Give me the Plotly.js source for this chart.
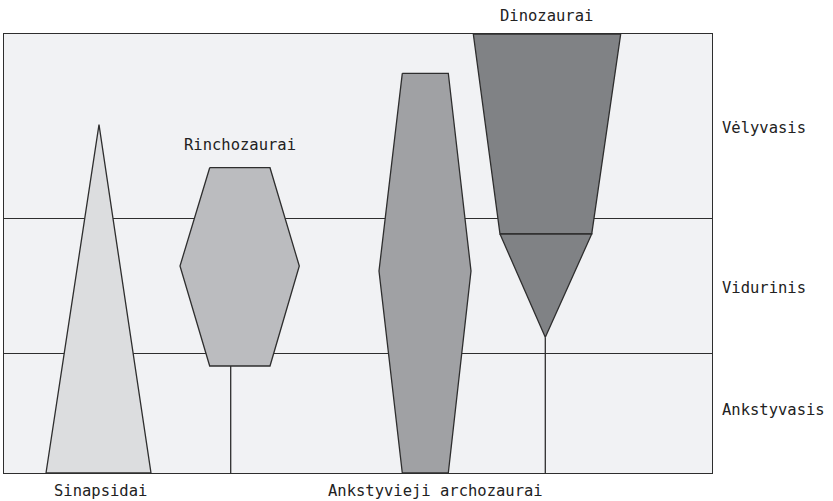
<!DOCTYPE html>
<html>
<head>
<meta charset="utf-8">
<script src="https://cdn.plot.ly/plotly-3.0.1.min.js"></script>
<style>html,body{margin:0;padding:0;background:#fff;}</style>
</head>
<body>
<div id="chart" style="width:833px;height:501px;"></div>
<script>
// Period boundaries (chart units, bottom = 0, top = 439)
const periodNames = ["Ankstyvasis", "Vidurinis", "Vėlyvasis"];
const periodBounds = [0, 119.7, 254.7, 439];
const periodLabelY = [63, 185, 345];
const yTop = 439;

// Group outlines (x, y in chart units)
const sinapsidaiX = [41.5, 94.5, 146.5, 41.5];
const sinapsidaiY = [0, 348.3, 0, 0];

const rinchoX = [205.2, 265.5, 294.8, 265.5, 205.2, 175.5, 205.2];
const rinchoY = [305.3, 305.3, 207, 107, 107, 207, 305.3];
const rinchoStemX = [226.2, 226.2];
const rinchoStemY = [107, 0];

const archoX = [397.8, 443.8, 466.5, 443.8, 397.8, 374.5, 397.8];
const archoY = [399.7, 399.7, 202, 0, 0, 202, 399.7];

const dinoUpperX = [468.8, 616.2, 587.2, 495.5, 468.8];
const dinoUpperY = [439, 439, 239, 239, 439];
const dinoLowerX = [495.5, 587.2, 540.8, 495.5];
const dinoLowerY = [239, 239, 135.7, 239];
const dinoStemX = [540.8, 540.8];
const dinoStemY = [135.7, 0];

// Labels
const groupLabels = ["Sinapsidai", "Rinchozaurai", "Ankstyvieji archozaurai", "Dinozaurai"];
const groupLabelX = [95.5, 235.5, 430.5, 541.8];
const groupLabelY = [-17.5, 328, -17.5, 457];

const edge = "#2e2e2e";
const font = {family: "DejaVu Sans Mono, monospace", size: 15.5, color: "#222"};

function poly(x, y, fill) {
  return {type: "scatter", mode: "lines", x: x, y: y, fill: "toself",
          fillcolor: fill, line: {color: edge, width: 1.3}, hoverinfo: "skip", showlegend: false};
}
function stem(x, y) {
  return {type: "scatter", mode: "lines", x: x, y: y,
          line: {color: edge, width: 1.3}, hoverinfo: "skip", showlegend: false};
}

const traces = [
  poly(sinapsidaiX, sinapsidaiY, "#dcdddf"),
  stem(rinchoStemX, rinchoStemY),
  poly(rinchoX, rinchoY, "#bbbcbf"),
  poly(archoX, archoY, "#a0a1a4"),
  stem(dinoStemX, dinoStemY),
  poly(dinoUpperX, dinoUpperY, "#808285"),
  poly(dinoLowerX, dinoLowerY, "#808285")
];

const annotations = [];
for (let i = 0; i < groupLabels.length; i++) {
  annotations.push({x: groupLabelX[i], y: groupLabelY[i] / yTop, xref: "x", yref: "paper",
    text: groupLabels[i], showarrow: false, font: font, xanchor: "center", yanchor: "middle"});
}
for (let i = 0; i < periodNames.length; i++) {
  annotations.push({x: 1, y: periodLabelY[i] / yTop, xref: "paper", yref: "paper",
    text: periodNames[i], showarrow: false, font: font, xanchor: "left", yanchor: "middle", xshift: 8});
}

const layout = {
  width: 833, height: 501,
  margin: {l: 4, r: 121, t: 34, b: 28, pad: 0},
  paper_bgcolor: "#ffffff",
  plot_bgcolor: "#f1f2f4",
  showlegend: false,
  xaxis: {range: [-0.5, 707.5], showgrid: false, zeroline: false, showticklabels: false, ticks: "",
          showline: true, mirror: true, linecolor: edge, linewidth: 1.3, fixedrange: true},
  yaxis: {range: [0, yTop], tickvals: periodBounds.slice(1, 3), showgrid: true, gridcolor: edge, gridwidth: 1.3,
          zeroline: false, showticklabels: false, ticks: "",
          showline: true, mirror: true, linecolor: edge, linewidth: 1.3, fixedrange: true},
  annotations: annotations
};

Plotly.newPlot("chart", traces, layout, {displayModeBar: false, staticPlot: true});
</script>
</body>
</html>
